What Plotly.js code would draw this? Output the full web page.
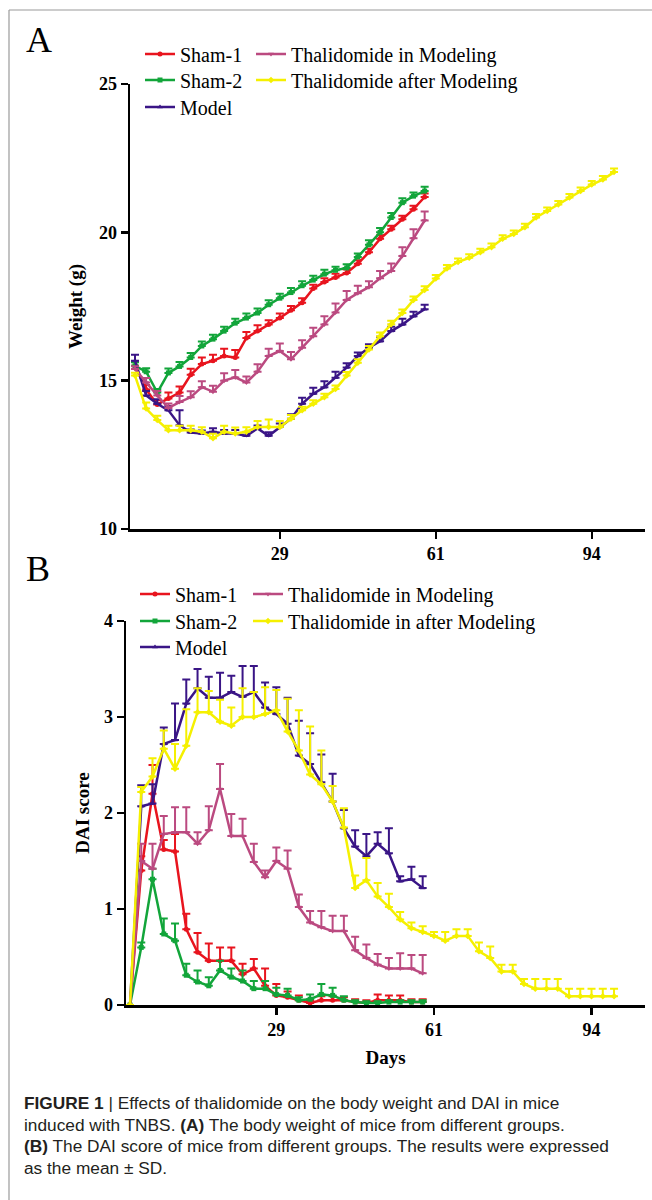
<!DOCTYPE html>
<html><head><meta charset="utf-8">
<script src="https://cdn.plot.ly/plotly-3.0.1.min.js"></script>
<style>html,body{margin:0;padding:0;background:#fff}#chart{width:652px;height:1200px}</style>
</head><body><div id="chart"></div>
<script>
// measurement index (x positions), tick labels in days
const measureIdx = [0,1,2,3,4,5,6,7,8,9,10,11,12,13,14,15,16,17,18,19,20,21,22,23,24,25,26,27,28,29,30,31,32,33,34,35,36,37,38,39,40,41,42,43];
const shortIdx = measureIdx.slice(0, 27);
const dayTickPos = [13, 27, 41];
const dayTickText = ['29', '61', '94'];

// Panel A: body weight (g), mean and SD
const wSham1 = [15.5,14.7,14.2,14.4,14.6,15.2,15.56,15.67,15.83,15.78,16.44,16.67,16.89,17.11,17.37,17.63,18.11,18.33,18.48,18.63,18.94,19.33,19.78,20.1,20.44,20.78,21.19];
const wSham1Sd = [0.15,0.15,0.15,0.2,0.2,0.2,0.22,0.2,0.25,0.25,0.2,0.2,0.15,0.15,0.15,0.15,0.12,0.12,0.12,0.12,0.12,0.12,0.12,0.12,0.12,0.12,0.12];
const wSham2 = [15.5,15.3,14.6,15.26,15.48,15.78,16.17,16.4,16.67,16.94,17.11,17.28,17.56,17.78,17.97,18.2,18.39,18.59,18.72,18.8,19.17,19.58,20.0,20.5,21.0,21.22,21.39];
const wSham2Sd = [0.12,0.12,0.12,0.15,0.15,0.15,0.15,0.15,0.15,0.15,0.15,0.15,0.15,0.15,0.15,0.15,0.15,0.15,0.12,0.12,0.12,0.15,0.15,0.15,0.15,0.12,0.15];
const wModel = [15.67,14.5,14.22,14.0,13.5,13.25,13.22,13.28,13.22,13.22,13.14,13.39,13.14,13.44,13.72,14.22,14.56,14.78,15.1,15.44,15.83,16.11,16.33,16.67,16.89,17.17,17.41];
const wModelSd = [0.2,0.15,0.15,0.15,0.5,0.1,0.1,0.12,0.12,0.12,0.12,0.1,0.12,0.12,0.15,0.2,0.2,0.2,0.2,0.15,0.12,0.12,0.15,0.15,0.2,0.15,0.15];
const wThalIn = [15.39,14.94,14.5,14.08,14.28,14.44,14.78,14.63,15.0,15.11,14.94,15.3,15.83,16.0,15.72,16.11,16.5,16.89,17.3,17.72,17.95,18.15,18.45,18.7,19.2,19.8,20.4];
const wThalInSd = [0.1,0.15,0.15,0.15,0.2,0.2,0.2,0.2,0.25,0.25,0.2,0.25,0.25,0.25,0.25,0.25,0.28,0.28,0.3,0.3,0.25,0.2,0.25,0.25,0.3,0.3,0.3];
const wThalAfter = [15.17,14.06,13.67,13.33,13.33,13.33,13.28,13.06,13.28,13.22,13.28,13.44,13.44,13.44,13.72,14.0,14.22,14.44,14.72,15.17,15.6,16.05,16.5,16.9,17.28,17.72,18.06,18.44,18.78,19.0,19.14,19.33,19.5,19.78,19.94,20.17,20.5,20.72,20.94,21.17,21.39,21.61,21.78,22.03];
const wThalAfterSd = [0.1,0.2,0.15,0.15,0.15,0.15,0.15,0.15,0.2,0.2,0.15,0.2,0.25,0.2,0.12,0.12,0.12,0.12,0.12,0.12,0.12,0.12,0.12,0.12,0.12,0.12,0.12,0.12,0.12,0.12,0.12,0.12,0.12,0.12,0.12,0.12,0.12,0.12,0.12,0.12,0.12,0.12,0.12,0.12];

// Panel B: DAI score, mean and SD
const dSham1 = [0,1.4,2.2,1.62,1.6,0.79,0.55,0.46,0.46,0.46,0.32,0.38,0.2,0.1,0.08,0.05,0.02,0.05,0.05,0.05,0.03,0.02,0.05,0.05,0.05,0.03,0.03];
const dSham1Sd = [0,0.15,0.3,0.1,0.18,0.16,0.2,0.18,0.14,0.14,0.11,0.1,0.18,0.12,0.06,0.05,0.03,0.04,0.04,0.03,0.03,0.03,0.06,0.05,0.05,0.03,0.03];
const dSham2 = [0,0.6,1.31,0.74,0.67,0.31,0.24,0.2,0.36,0.29,0.25,0.17,0.17,0.11,0.1,0.05,0.06,0.11,0.1,0.05,0.03,0.02,0.02,0.03,0.03,0.03,0.03];
const dSham2Sd = [0,0.05,0.11,0.16,0.18,0.12,0.12,0.09,0.1,0.09,0.11,0.08,0.08,0.07,0.07,0.03,0.05,0.11,0.08,0.04,0.02,0.02,0.02,0.02,0.02,0.02,0.02];
const dModel = [0,2.07,2.1,2.72,2.76,3.14,3.3,3.2,3.2,3.26,3.21,3.26,3.1,3.03,2.93,2.6,2.51,2.32,2.12,1.84,1.65,1.55,1.68,1.58,1.29,1.31,1.22];
const dModelSd = [0,0.22,0.2,0.17,0.38,0.25,0.2,0.22,0.26,0.17,0.32,0.27,0.26,0.28,0.27,0.36,0.32,0.29,0.29,0.19,0.17,0.23,0.12,0.26,0.05,0.13,0.12];
const dThalIn = [0,1.5,1.42,1.78,1.8,1.8,1.68,1.82,2.25,1.76,1.76,1.49,1.33,1.5,1.42,1.02,0.86,0.81,0.77,0.77,0.57,0.49,0.42,0.38,0.38,0.38,0.33];
const dThalInSd = [0,0.18,0.26,0.19,0.26,0.26,0.12,0.25,0.26,0.23,0.18,0.19,0.07,0.14,0.19,0.13,0.12,0.17,0.16,0.16,0.14,0.14,0.11,0.11,0.16,0.14,0.19];
const dThalAfter = [0,2.22,2.38,2.67,2.46,2.7,3.05,3.05,2.95,2.91,3.0,3.0,3.03,3.07,2.85,2.65,2.4,2.3,2.12,1.85,1.22,1.3,1.13,1.02,0.89,0.8,0.76,0.72,0.67,0.72,0.72,0.56,0.49,0.35,0.35,0.22,0.17,0.17,0.17,0.09,0.09,0.09,0.09,0.09];
const dThalAfterSd = [0,0.05,0.19,0.19,0.26,0.38,0.25,0.22,0.23,0.19,0.3,0.26,0.28,0.21,0.34,0.42,0.5,0.35,0.16,0.2,0.13,0.23,0.14,0.14,0.08,0.06,0.06,0.04,0.09,0.07,0.07,0.09,0.12,0.07,0.07,0.05,0.1,0.1,0.1,0.08,0.08,0.08,0.08,0.08];

const namesA = ['Sham-1','Sham-2','Model','Thalidomide in Modeling','Thalidomide after Modeling'];
const namesB = ['Sham-1','Sham-2','Model','Thalidomide in Modeling','Thalidomide in after Modeling'];
const colors = ['#E8141E','#12A53A','#3A1586','#BB4A80','#F5F000'];
const symbols = ['circle','square','triangle-up','triangle-down','diamond'];

const W = 652, H = 1200;
const px = v => v / W, py = v => 1 - v / H;
const serif = '"Liberation Serif", "Times New Roman", serif';

function mk(i, names, x, y, sd, xa, ya, lg) {
  return {
    type: 'scatter', mode: 'lines+markers', name: names[i], x: x, y: y,
    xaxis: xa, yaxis: ya, legend: lg,
    line: {color: colors[i], width: 2.5},
    marker: {color: colors[i], size: 5, symbol: symbols[i]},
    error_y: {type: 'data', symmetric: false, array: sd, arrayminus: sd.map(() => 0),
              color: colors[i], thickness: 2, width: 4},
    cliponaxis: false
  };
}

const traces = [
  mk(0, namesA, shortIdx, wSham1, wSham1Sd, 'x', 'y', 'legend'),
  mk(1, namesA, shortIdx, wSham2, wSham2Sd, 'x', 'y', 'legend2'),
  mk(2, namesA, shortIdx, wModel, wModelSd, 'x', 'y', 'legend3'),
  mk(3, namesA, shortIdx, wThalIn, wThalInSd, 'x', 'y', 'legend4'),
  mk(4, namesA, measureIdx, wThalAfter, wThalAfterSd, 'x', 'y', 'legend5'),
  mk(0, namesB, shortIdx, dSham1, dSham1Sd, 'x2', 'y2', 'legend6'),
  mk(1, namesB, shortIdx, dSham2, dSham2Sd, 'x2', 'y2', 'legend7'),
  mk(2, namesB, shortIdx, dModel, dModelSd, 'x2', 'y2', 'legend8'),
  mk(3, namesB, shortIdx, dThalIn, dThalInSd, 'x2', 'y2', 'legend9'),
  mk(4, namesB, measureIdx, dThalAfter, dThalAfterSd, 'x2', 'y2', 'legend10')
];

const tickFont = {family: serif, size: 18, color: '#000', weight: 'bold'};
const titleFont = {family: serif, size: 19, color: '#000', weight: 'bold'};
const axisBase = {showline: true, linewidth: 2.5, linecolor: '#000', ticks: 'outside', ticklen: 7,
  tickwidth: 2.5, tickcolor: '#000', showgrid: false, zeroline: false, tickfont: tickFont, fixedrange: true};

// one legend per row, so each row can be placed where the reference has it
function lg(textX, rowY) {
  return {x: px(textX - 40), y: py(rowY), xanchor: 'left', yanchor: 'middle', bgcolor: 'rgba(0,0,0,0)',
    font: {family: serif, size: 20, color: '#000', weight: 'normal'}, itemwidth: 30, valign: 'middle'};
}

const capFont = {family: '"Liberation Sans", Arial, sans-serif', size: 17.3, color: '#231F20'};
function cap(text, y) {
  return {text: text, x: px(22), y: py(y), xref: 'paper', yref: 'paper', xanchor: 'left', yanchor: 'middle',
    showarrow: false, font: capFont, align: 'left'};
}

const layout = {
  width: W, height: H, margin: {l: 0, r: 0, t: 0, b: 0}, paper_bgcolor: '#fff', plot_bgcolor: '#fff',
  font: {family: serif, color: '#000'},
  showlegend: true,
  xaxis: Object.assign({}, axisBase, {domain: [px(130), px(645)], range: [-0.449, 45.78], anchor: 'y',
    tickmode: 'array', tickvals: dayTickPos, ticktext: dayTickText}),
  yaxis: Object.assign({}, axisBase, {domain: [py(529), py(84)], range: [10, 25], anchor: 'x',
    tickvals: [10, 15, 20, 25], title: {text: 'Weight (g)', font: titleFont, standoff: 12}}),
  xaxis2: Object.assign({}, axisBase, {domain: [px(126), px(645)], range: [-0.355, 45.75], anchor: 'y2',
    tickmode: 'array', tickvals: dayTickPos, ticktext: dayTickText,
    title: {text: 'Days', font: titleFont, standoff: 12}}),
  yaxis2: Object.assign({}, axisBase, {domain: [py(1005), py(621)], range: [0, 4], anchor: 'x2',
    tickvals: [0, 1, 2, 3, 4], title: {text: 'DAI score', font: titleFont, standoff: 10}}),
  legend: lg(180, 54),
  legend2: lg(180, 80),
  legend3: lg(180, 107),
  legend4: lg(291, 54),
  legend5: lg(291, 80),
  legend6: lg(175, 594),
  legend7: lg(175, 621),
  legend8: lg(175, 647),
  legend9: lg(288, 594),
  legend10: lg(288, 621),
  annotations: [
    {text: 'A', x: px(24), y: py(40), xref: 'paper', yref: 'paper', xanchor: 'left', yanchor: 'middle',
      showarrow: false, font: {family: serif, size: 36, color: '#000'}},
    {text: 'B', x: px(24), y: py(569), xref: 'paper', yref: 'paper', xanchor: 'left', yanchor: 'middle',
      showarrow: false, font: {family: serif, size: 36, color: '#000'}},
    cap('<b>FIGURE 1</b> | Effects of thalidomide on the body weight and DAI in mice', 1103),
    cap('induced with TNBS. <b>(A)</b> The body weight of mice from different groups.', 1124.5),
    cap('<b>(B)</b> The DAI score of mice from different groups. The results were expressed', 1146),
    cap('as the mean ± SD.', 1167.5)
  ],
  shapes: [
    {type: 'line', xref: 'paper', yref: 'paper', x0: px(9), x1: 1, y0: py(10), y1: py(10), line: {color: '#9a9a9a', width: 1.2}},
    {type: 'line', xref: 'paper', yref: 'paper', x0: px(9), x1: px(9), y0: py(10), y1: 0, line: {color: '#9a9a9a', width: 1.2}}
  ]
};

Plotly.newPlot('chart', traces, layout, {displayModeBar: false, staticPlot: true});
</script></body></html>
